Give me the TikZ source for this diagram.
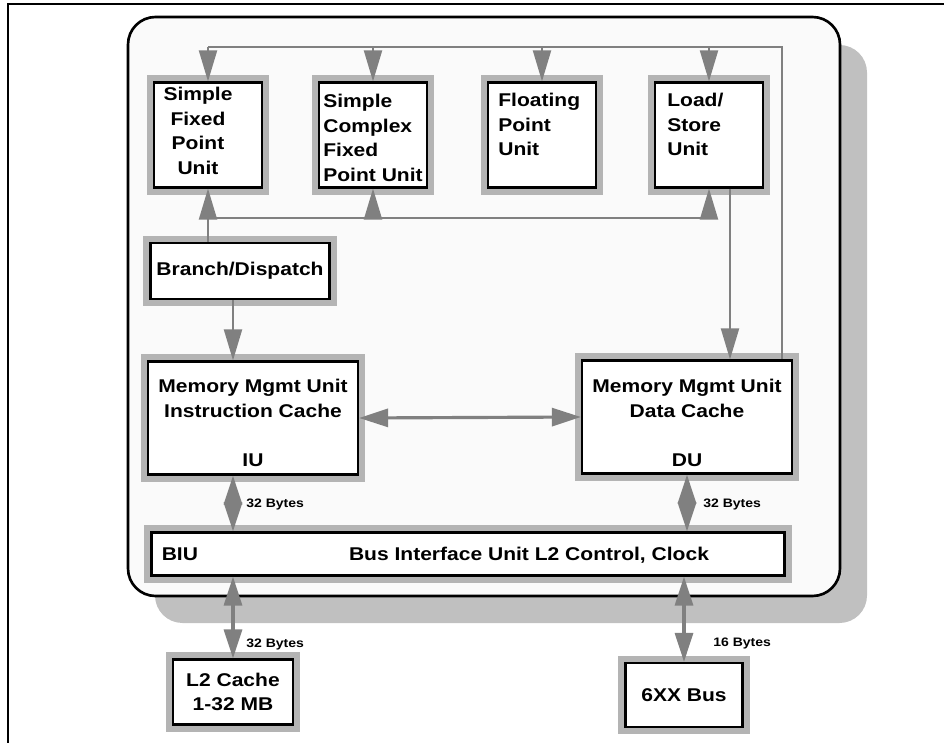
\documentclass[tikz,border=0pt]{standalone}
\usepackage{fontspec}
\setmainfont[FakeStretch=1.14]{Liberation Sans}
\usetikzlibrary{arrows.meta,calc}
\definecolor{halogray}{RGB}{180,180,180}
\definecolor{shadowgray}{RGB}{192,192,192}
\definecolor{arrowgray}{RGB}{128,128,128}
\definecolor{panelfill}{RGB}{250,250,250}
\newcommand{\unitfont}{\bfseries\fontsize{10.5}{14}\selectfont}
\newcommand{\bytefont}{\bfseries\fontsize{7}{8}\selectfont}

\begin{document}
\begin{tikzpicture}[x=0.02cm,y=-0.02cm,every node/.style={font=\unitfont},
    unit/.style={draw=black,line width=1.3pt,fill=white,
      preaction={draw=halogray,line width=0.3cm}},
    lbl/.style={inner sep=0pt},
    bytes/.style={lbl,anchor=west,font=\bytefont},
    bus/.style={draw=arrowgray,line width=1.2pt},
    arr/.style={bus,-{Triangle[length=0.62cm,width=0.36cm]}},
    dbl/.style={draw=arrowgray,line width=1.8pt,
      {Triangle[length=0.58cm,width=0.36cm]}-{Triangle[length=0.58cm,width=0.36cm]}}]
  \useasboundingbox (0,0) rectangle (944,743);
  % page frame
  \draw[line width=0.8pt] (944,4) -- (8,4) -- (8,743);
  % chip outline with shadow
  \fill[shadowgray,rounded corners=0.55cm] (155,45) rectangle (867,623);
  \draw[line width=1.5pt,fill=panelfill,rounded corners=0.55cm] (128,17) rectangle (840,596);

  % execution units
  \node[unit,minimum width=2.16cm,minimum height=2.1cm] (sfpu) at (208,135) {};
  \node[unit,minimum width=2.16cm,minimum height=2.1cm] (scfpu) at (373,135) {};
  \node[unit,minimum width=2.16cm,minimum height=2.1cm] (fpu) at (542,135) {};
  \node[unit,minimum width=2.16cm,minimum height=2.1cm] (lsu) at (709,135) {};
  \node[lbl,anchor=north,align=center] (sfpu-t) at (198,87) {Simple\\Fixed\\Point\\Unit};
  \node[lbl,anchor=north west,align=left] (scfpu-t) at (323,94) {Simple\\Complex\\Fixed\\Point Unit};
  \node[lbl,anchor=north west,align=left] (fpu-t) at (498,93) {Floating\\Point\\Unit};
  \node[lbl,anchor=north west,align=left] (lsu-t) at (667,93) {Load/\\Store\\Unit};

  % dispatch and memory units
  \node[unit,minimum width=3.58cm,minimum height=1.12cm] (branch) at (240,271) {Branch/Dispatch};
  \node[unit,minimum width=4.2cm,minimum height=2.26cm] (iu) at (253,418) {};
  \node[lbl,anchor=north,align=center] (iu-t) at (253,379)
    {Memory Mgmt Unit\\Instruction Cache\\[14pt]IU};
  \node[unit,minimum width=4.2cm,minimum height=2.26cm] (du) at (687,417) {};
  \node[lbl,anchor=north,align=center] (du-t) at (687,379)
    {Memory Mgmt Unit\\Data Cache\\[14pt]DU};
  \node[unit,minimum width=12.66cm,minimum height=0.86cm] (biu) at (468,554) {};
  \node[lbl,anchor=west] (biu-t) at ([xshift=0.22cm]biu.west) {BIU};
  \node[lbl] (biu-d) at (529,555) {Bus Interface Unit L2 Control, Clock};

  % outside the chip
  \node[unit,minimum width=2.4cm,minimum height=1.3cm,align=center] (l2) at (233,692) {L2 Cache\\1-32 MB};
  \node[unit,minimum width=2.34cm,minimum height=1.28cm] (bus6) at (684,695) {6XX Bus};

  % dispatch bus to the units
  \coordinate (tb) at (782,47);
  \coordinate (bb) at (0,218);
  \draw[bus] (sfpu.north |- tb) -- (tb) -- (du.north -| tb);
  \foreach \n in {sfpu,scfpu,fpu,lsu}
    \draw[arr] (\n.north |- tb) -- (\n.north);
  \draw[bus] (branch.north -| sfpu) -- (sfpu.south |- bb) -- (lsu.south |- bb);
  \foreach \n in {sfpu,scfpu,lsu}
    \draw[arr] (\n.south |- bb) -- (\n.south);
  \draw[arr] (branch.south -| l2) -- (iu.north -| l2);
  \draw[arr] ($(lsu.south)+(21,0)$) -- ($(du.north)+(43,0)$);
  \draw[dbl] (iu.east) -- (du.west);

  % data paths
  \draw[dbl] (iu.south -| l2) -- (biu.north -| l2);
  \draw[dbl] (du.south) -- (biu.north -| du);
  \draw[dbl] (biu.south -| l2) -- (l2.north);
  \draw[dbl] (biu.south -| bus6) -- (bus6.north);
  \node[bytes] (w-iu) at (246,504) {32 Bytes};
  \node[bytes] (w-du) at (703,504) {32 Bytes};
  \node[bytes] (w-l2) at (246,644) {32 Bytes};
  \node[bytes] (w-bus) at (713,643) {16 Bytes};
\end{tikzpicture}
\end{document}
